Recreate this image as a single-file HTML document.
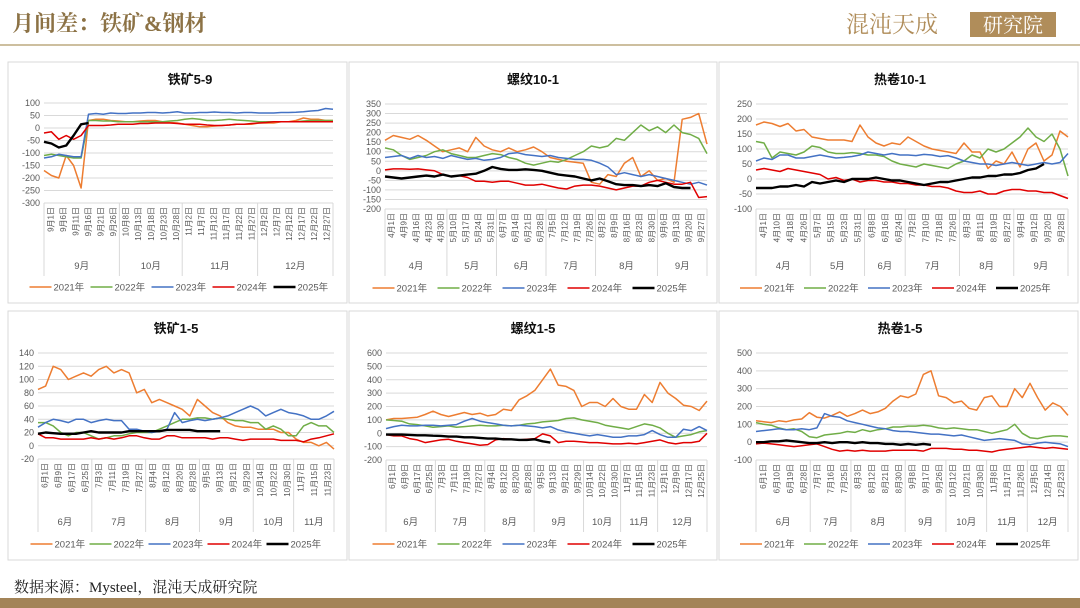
<!DOCTYPE html>
<html><head><meta charset="utf-8">
<style>
html,body{margin:0;padding:0;background:#fff;}
svg{display:block;font-family:"Liberation Sans","Noto Sans CJK SC",sans-serif;}
.tk{font-size:9px;fill:#595959;}
.dt{font-size:8px;fill:#595959;}
.mo{font-size:9.5px;fill:#595959;}
.lg{font-size:9.5px;fill:#595959;}
.ti{font-size:13px;font-weight:bold;fill:#111;}
</style></head>
<body>
<svg id="root" width="1080" height="608" viewBox="0 0 1080 608">
  <rect x="0" y="0" width="1080" height="608" fill="#ffffff"/>
  <text x="12" y="31" font-family="'Liberation Serif','Noto Serif CJK SC',serif" font-size="22" font-weight="bold" fill="#8c7245">月间差：铁矿&amp;钢材</text>
  <text x="846" y="32" font-family="'Liberation Serif','Noto Serif CJK SC',serif" font-size="23" fill="#b08d5a">混沌天成</text>
  <rect x="970" y="12" width="86" height="25" fill="#b08d5a"/>
  <text x="1013" y="32" text-anchor="middle" font-family="'Liberation Serif','Noto Serif CJK SC',serif" font-size="20" fill="#fff">研究院</text>
  <rect x="0" y="44" width="1080" height="2" fill="#cdbf9f"/>
  <rect x="8" y="62" width="339" height="241" fill="#fff" stroke="#d9d9d9"/>
  <rect x="349" y="62" width="368" height="241" fill="#fff" stroke="#d9d9d9"/>
  <rect x="719" y="62" width="359" height="241" fill="#fff" stroke="#d9d9d9"/>
  <rect x="8" y="311" width="339" height="249" fill="#fff" stroke="#d9d9d9"/>
  <rect x="349" y="311" width="368" height="249" fill="#fff" stroke="#d9d9d9"/>
  <rect x="719" y="311" width="359" height="249" fill="#fff" stroke="#d9d9d9"/>
  <text x="14" y="592" font-family="'Liberation Serif','Noto Serif CJK SC',serif" font-size="15" fill="#222">数据来源：Mysteel，混沌天成研究院</text>
  <rect x="0" y="598" width="1080" height="10" fill="#a38458"/>
</svg>
<script>
// ---------- shared ----------
const years = ["2021年","2022年","2023年","2024年","2025年"];
const colors = ["#ed7d31","#70ad47","#4472c4","#e00000","#000000"];

// ---------- chart 1: 铁矿5-9 ----------
const c1Title = "铁矿5-9";
const c1Ticks = [100,50,0,-50,-100,-150,-200,-250,-300];
const c1Months = ["9月","10月","11月","12月"];
const c1MonthDays = [["1","6","11","16","21","26"],["8","13","18","23","28"],["2","7","12","17","22","27"],["2","7","12","17","22","27"]];
const c1N = 40;
const c1S2021 = [-170,-190,-200,-110,-150,-240,30,35,35,30,28,25,25,28,30,30,25,22,20,15,10,5,5,8,10,12,15,15,15,20,20,20,25,25,30,40,35,35,30,30];
const c1S2022 = [-110,-105,-110,-115,-120,-120,30,30,28,28,25,25,25,25,25,25,25,28,30,35,38,35,30,30,32,35,32,30,28,25,25,25,25,25,25,28,30,30,30,30];
const c1S2023 = [-120,-115,-105,-110,-115,-115,55,58,55,60,58,58,60,60,62,62,60,62,65,60,60,62,62,64,62,62,60,62,62,60,60,60,62,62,63,65,68,70,78,75];
const c1S2024 = [-20,-15,-45,-30,-45,-30,10,10,10,12,15,15,15,18,18,20,20,20,18,15,15,15,12,10,10,12,15,15,18,20,22,25,25,25,25,25,25,25,25,25];
const c1S2025 = [-55,-62,-78,-70,-30,15,20];

// ---------- chart 2: 螺纹10-1 ----------
const c2Title = "螺纹10-1";
const c2Ticks = [350,300,250,200,150,100,50,0,-50,-100,-150,-200];
const c2Months = ["4月","5月","6月","7月","8月","9月"];
const c2MonthDays = [["1","9","16","23","30"],["10","17","24","31"],["7","14","21","28"],["5","12","19","26"],["2","9","16","23","30"],["6","13","20","27"]];
const c2N = 40;
const c2S2021 = [160,185,175,165,185,160,130,100,110,120,100,175,130,110,100,120,100,110,125,100,70,60,50,45,40,-60,-70,-20,-30,40,70,-30,0,-50,-40,-60,270,280,300,140];
const c2S2022 = [120,110,80,60,70,80,100,110,90,80,70,70,80,90,85,70,60,40,30,40,50,45,60,80,100,130,120,130,170,160,200,240,210,230,200,240,200,190,170,90];
const c2S2023 = [70,75,80,65,80,70,75,65,80,70,60,65,55,60,70,90,95,85,80,75,80,70,65,60,60,55,40,20,-20,-10,-20,-30,-20,-30,-40,-50,-60,-70,-60,-75];
const c2S2024 = [5,10,10,8,10,5,0,-20,-30,-25,-35,-55,-55,-60,-55,-55,-65,-75,-75,-70,-80,-90,-95,-80,-75,-75,-80,-90,-100,-90,-80,-80,-60,-50,-60,-70,-70,-60,-140,-135];
const c2S2025 = [-30,-35,-40,-35,-30,-25,-30,-20,-30,-25,-20,-15,0,20,10,5,5,8,5,0,-10,-20,-25,-30,-40,-50,-40,-55,-70,-75,-75,-80,-75,-80,-65,-85,-90,-90];

// ---------- chart 3: 热卷10-1 ----------
const c3Title = "热卷10-1";
const c3Ticks = [250,200,150,100,50,0,-50,-100];
const c3Months = ["4月","5月","6月","7月","8月","9月"];
const c3MonthDays = [["1","10","18","26"],["7","15","23","31"],["8","16","24"],["2","10","18","26"],["3","11","19","27"],["4","12","20","28"]];
const c3N = 40;
const c3S2021 = [180,190,185,175,185,160,165,140,135,130,130,130,125,180,140,120,110,120,115,140,125,110,100,95,90,85,120,90,90,35,60,50,90,40,100,120,60,80,160,140];
const c3S2022 = [125,120,70,90,85,80,90,110,105,90,85,85,88,85,80,80,75,60,50,45,40,50,45,40,35,50,60,80,70,100,90,100,120,140,170,140,125,150,100,10];
const c3S2023 = [60,70,65,80,80,70,70,75,80,75,70,72,75,80,90,85,80,85,80,80,78,82,80,75,78,70,60,55,50,50,45,50,55,50,45,50,55,50,55,85];
const c3S2024 = [30,35,30,25,35,30,25,20,15,0,5,-5,0,-10,-5,-5,-10,-10,-15,-15,-20,-20,-25,-25,-30,-40,-45,-45,-40,-50,-50,-40,-35,-35,-40,-40,-45,-45,-55,-65];
const c3S2025 = [-30,-30,-30,-25,-25,-20,-25,-10,-15,-10,-5,-10,0,0,0,5,0,-5,-5,-10,-15,-20,-15,-10,-10,-5,0,5,5,10,10,15,15,20,30,35,50];

// ---------- chart 4: 铁矿1-5 ----------
const c4Title = "铁矿1-5";
const c4Ticks = [140,120,100,80,60,40,20,0,-20];
const c4Months = ["6月","7月","8月","9月","10月","11月"];
const c4MonthDays = [["1","9","17","25"],["3","11","19","27"],["4","12","20","28"],["5","13","21","29"],["14","22","30"],["7","15","23"]];
const c4N = 40;
const c4S2021 = [85,90,120,115,100,105,110,105,115,120,110,115,110,80,85,65,70,65,60,55,45,70,60,50,45,35,30,28,28,25,25,25,20,20,10,5,5,0,5,-5];
const c4S2022 = [35,35,30,20,15,20,20,15,10,12,15,15,18,20,20,20,25,30,35,40,40,42,42,40,42,40,38,38,35,35,25,30,25,15,15,30,35,30,30,20];
const c4S2023 = [28,35,40,38,35,40,40,35,38,40,38,38,25,25,22,20,22,25,50,35,38,40,38,40,42,45,50,55,60,55,45,50,55,50,48,45,40,40,45,52];
const c4S2024 = [18,12,12,10,10,10,10,12,10,12,10,12,15,15,12,10,10,15,15,12,12,12,12,10,12,12,10,8,10,10,10,10,8,8,8,6,10,12,15,18];
const c4S2025 = [18,20,19,18,18,18,20,22,20,20,20,20,22,22,22,22,22,24,24,24,24,22,22,22,22];

// ---------- chart 5: 螺纹1-5 ----------
const c5Title = "螺纹1-5";
const c5Ticks = [600,500,400,300,200,100,0,-100,-200];
const c5Months = ["6月","7月","8月","9月","10月","11月","12月"];
const c5MonthDays = [["1","9","17","25"],["3","11","19","27"],["4","12","20","28"],["5","13","21","29"],["14","22","30"],["7","15","23"],["1","9","17","25"]];
const c5N = 42;
const c5S2021 = [100,110,110,115,120,140,165,140,125,140,155,140,150,130,140,180,170,250,280,320,400,480,360,350,320,200,230,230,200,260,200,180,180,290,230,380,300,260,210,200,170,240];
const c5S2022 = [100,95,90,70,65,55,45,50,55,45,50,55,60,55,55,60,55,60,70,75,85,90,95,110,115,100,90,80,60,50,40,30,50,70,60,40,0,-30,-20,-10,10,20];
const c5S2023 = [35,50,60,55,55,60,60,55,60,65,90,110,90,80,70,60,55,60,55,50,40,50,25,10,0,-10,-20,-10,-20,-30,-30,-20,-20,-10,20,-10,-30,-30,30,20,50,20];
const c5S2024 = [-10,-20,-20,-40,-50,-70,-60,-50,-45,-60,-70,-80,-90,-85,-50,-40,-45,-50,-45,-40,-5,-20,-70,-60,-60,-65,-70,-70,-75,-80,-80,-75,-80,-70,-60,-50,-70,-80,-70,-70,-60,0];
const c5S2025 = [-10,-10,-10,-12,-15,-15,-18,-20,-25,-25,-30,-30,-35,-40,-40,-45,-45,-50,-50,-45,-60,-70];

// ---------- chart 6: 热卷1-5 ----------
const c6Title = "热卷1-5";
const c6Ticks = [500,400,300,200,100,0,-100];
const c6Months = ["6月","7月","8月","9月","10月","11月","12月"];
const c6MonthDays = [["1","10","19","28"],["7","16","25"],["3","12","21","30"],["8","17","26"],["12","21","30"],["8","17","26"],["5","14","23"]];
const c6N = 42;
const c6S2021 = [120,115,110,120,115,125,130,165,140,135,150,170,145,160,180,160,170,190,230,260,250,270,380,400,260,250,220,230,190,180,250,260,200,200,300,250,330,250,180,220,200,150];
const c6S2022 = [110,100,95,80,70,75,60,30,25,40,45,50,60,55,70,60,70,75,85,85,90,90,95,90,80,75,80,75,70,70,60,50,60,70,100,50,25,20,30,35,35,30];
const c6S2023 = [60,65,70,75,70,70,75,70,80,160,145,140,120,110,100,90,80,75,65,60,60,55,50,45,45,40,35,40,30,20,10,15,20,15,10,-10,-15,-5,0,-5,-10,-25];
const c6S2024 = [-10,-5,-10,-15,-20,-25,-20,-15,-10,-25,-40,-50,-45,-50,-45,-50,-50,-50,-45,-45,-45,-45,-50,-35,-35,-35,-40,-40,-45,-45,-50,-55,-45,-40,-35,-30,-25,-30,-35,-30,-35,-40];
const c6S2025 = [0,0,5,5,10,5,0,-5,-5,0,-5,0,0,-5,0,-5,-5,-10,-10,-15,-10,-15,-10,-15];

// ---------- renderer ----------
const NS = "http://www.w3.org/2000/svg";
const root = document.getElementById("root");
function mk(tag, attrs, parent){ const e=document.createElementNS(NS,tag); for(const k in attrs) e.setAttribute(k,attrs[k]); (parent||root).appendChild(e); return e; }

function drawChart(cfg){
  const g = mk("g",{});
  
  
  const ymax = cfg.ticks[0], ymin = cfg.ticks[cfg.ticks.length-1];
  const yS = v => cfg.yTop + (ymax - v) / (ymax - ymin) * (cfg.yBot - cfg.yTop);
  const xS = i => cfg.x0 + i / (cfg.n - 1) * (cfg.x1 - cfg.x0);
  // title
  const t = mk("text",{x:cfg.tx, y:cfg.ty, "text-anchor":"middle", class:"ti"}, g);
  t.textContent = cfg.title;
  
  
  // grid + ticks
  cfg.ticks.forEach(v=>{
    const y = yS(v);
    const ln = mk("line",{x1:cfg.x0, x2:cfg.x1, y1:y, y2:y, stroke:"#d9d9d9", "stroke-width":1}, g);
    
    
    const tl = mk("text",{x:cfg.x0-4, y:y+3, "text-anchor":"end", class:"tk"}, g);
    tl.textContent = v;
    
    
  });
  // category axis: dates + months
  let total = 0; cfg.monthDays.forEach(d=> total += d.length);
  const w = cfg.x1 - cfg.x0;
  let k = 0;
  const bx = [cfg.x0];
  cfg.months.forEach((m, mi)=>{
    const start = k;
    cfg.monthDays[mi].forEach(d=>{
      const x = cfg.x0 + (k + 0.5) / total * w;
      const dl = mk("text",{x:0, y:0, "text-anchor":"end", class:"dt", transform:`translate(${x+3},${cfg.dateTop}) rotate(-90)`}, g);
      dl.textContent = m + d + "日";
      
      
      k++;
    });
    const xa = cfg.x0 + start / total * w, xb = cfg.x0 + k / total * w;
    bx.push(xb);
    const ml = mk("text",{x:(xa+xb)/2, y:cfg.monthY, "text-anchor":"middle", class:"mo"}, g);
    ml.textContent = m;
    
    
  });
  bx.forEach(x=>{
    const s = mk("line",{x1:x, x2:x, y1:cfg.yBot, y2:cfg.sepBot, stroke:"#d9d9d9", "stroke-width":1}, g);
    
    
  });
  const ax = mk("line",{x1:cfg.x0, x2:cfg.x1, y1:cfg.yBot, y2:cfg.yBot, stroke:"#d9d9d9"}, g);
  
  
  // series
  cfg.series.forEach((s, si)=>{
    const pts = s.map((v,i)=> xS(i).toFixed(1) + "," + yS(v).toFixed(1)).join(" ");
    const pl = mk("polyline",{points:pts, fill:"none", stroke:colors[si], "stroke-width": si===4 ? 2.4 : 1.5, "stroke-linejoin":"round"}, g);
    
    
  });
  // legend
  const itemW = cfg.legW;
  const lx0 = cfg.lcx - itemW * 2.5;
  years.forEach((yr, i)=>{
    const x = lx0 + i * itemW;
    const lg = mk("g",{}, g);
    
    
    mk("line",{x1:x, x2:x+22, y1:cfg.legY, y2:cfg.legY, stroke:colors[i], "stroke-width": i===4?2.6:1.6}, lg);
    const lt = mk("text",{x:x+24, y:cfg.legY+3.5, class:"lg"}, lg);
    lt.textContent = yr;
  });
}

drawChart({id:"chart-iron-5-9", title:c1Title, ticks:c1Ticks, months:c1Months, monthDays:c1MonthDays, n:c1N,
  series:[c1S2021,c1S2022,c1S2023,c1S2024,c1S2025],
  x0:44, x1:333, yTop:103, yBot:203, tx:190, ty:84, dateTop:207, monthY:269, sepBot:276, legY:287, lcx:182, legW:61});
drawChart({id:"chart-rebar-10-1", title:c2Title, ticks:c2Ticks, months:c2Months, monthDays:c2MonthDays, n:c2N,
  series:[c2S2021,c2S2022,c2S2023,c2S2024,c2S2025],
  x0:385, x1:707, yTop:104, yBot:209, tx:533, ty:84, dateTop:213, monthY:269, sepBot:276, legY:288, lcx:535, legW:65});
drawChart({id:"chart-hrc-10-1", title:c3Title, ticks:c3Ticks, months:c3Months, monthDays:c3MonthDays, n:c3N,
  series:[c3S2021,c3S2022,c3S2023,c3S2024,c3S2025],
  x0:756, x1:1068, yTop:104, yBot:209, tx:900, ty:84, dateTop:213, monthY:269, sepBot:276, legY:288, lcx:900, legW:64});
drawChart({id:"chart-iron-1-5", title:c4Title, ticks:c4Ticks, months:c4Months, monthDays:c4MonthDays, n:c4N,
  series:[c4S2021,c4S2022,c4S2023,c4S2024,c4S2025],
  x0:38, x1:334, yTop:353, yBot:459, tx:176, ty:333, dateTop:463, monthY:525, sepBot:532, legY:544, lcx:178, legW:59});
drawChart({id:"chart-rebar-1-5", title:c5Title, ticks:c5Ticks, months:c5Months, monthDays:c5MonthDays, n:c5N,
  series:[c5S2021,c5S2022,c5S2023,c5S2024,c5S2025],
  x0:386, x1:707, yTop:353, yBot:460, tx:533, ty:333, dateTop:464, monthY:525, sepBot:532, legY:544, lcx:535, legW:65});
drawChart({id:"chart-hrc-1-5", title:c6Title, ticks:c6Ticks, months:c6Months, monthDays:c6MonthDays, n:c6N,
  series:[c6S2021,c6S2022,c6S2023,c6S2024,c6S2025],
  x0:756, x1:1068, yTop:353, yBot:460, tx:900, ty:333, dateTop:464, monthY:525, sepBot:532, legY:544, lcx:900, legW:64});
</script>
</body></html>
